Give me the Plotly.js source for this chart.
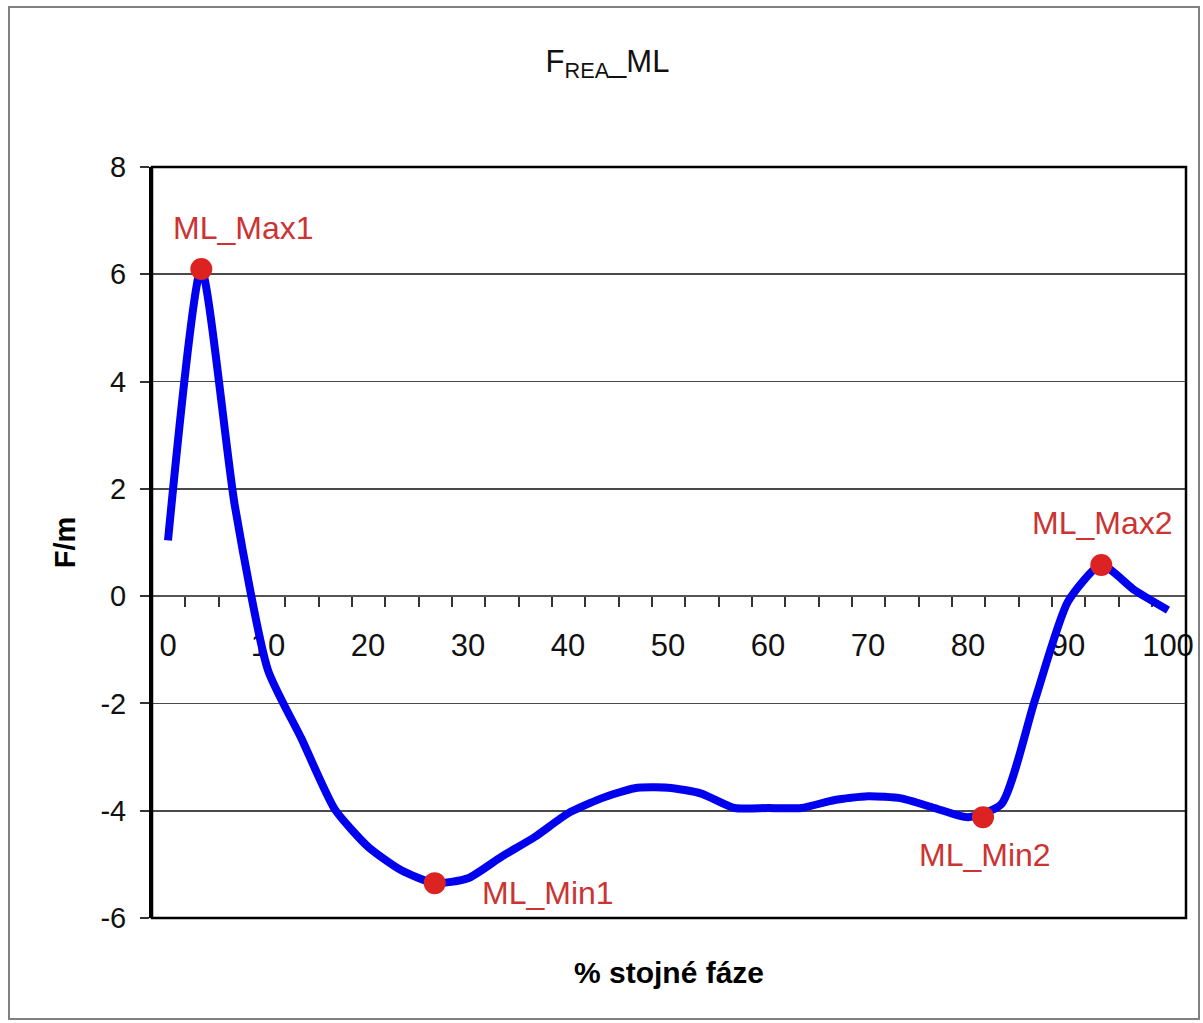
<!DOCTYPE html>
<html>
<head>
<meta charset="utf-8">
<script src="https://cdn.plot.ly/plotly-3.0.1.min.js"></script>
<style>
  html, body { margin: 0; padding: 0; background: #ffffff; }
  #chart { width: 1203px; height: 1023px; }
</style>
</head>
<body>
<div id="chart"></div>
<script>
// Stance-phase samples (% of stance) and medio-lateral reaction force per body mass
const stancePct = [0, 3.33, 6.67, 10, 13.33, 16.67, 20, 23.33, 26.67, 30,
                   33.33, 36.67, 40, 43.33, 46.67, 50, 53.33, 56.67, 60, 63.33,
                   66.67, 70, 73.33, 76.67, 80, 83.33, 86.67, 90, 93.33, 96.67, 100];
const forceML = [1.04, 6.1, 1.7, -1.38, -2.65, -3.97, -4.67, -5.11, -5.35, -5.26,
                 -4.86, -4.49, -4.05, -3.77, -3.58, -3.57, -3.68, -3.95, -3.95, -3.95,
                 -3.8, -3.73, -3.77, -3.95, -4.12, -3.88, -1.95, -0.1, 0.58, 0.11, -0.26];

// Extreme points of the curve
const extremaNames = ['ML_Max1', 'ML_Min1', 'ML_Min2', 'ML_Max2'];
const extremaX = [3.33, 26.67, 81.5, 93.33];
const extremaY = [6.1, -5.35, -4.12, 0.58];

// Axis labels
const xTickVals = [0, 10, 20, 30, 40, 50, 60, 70, 80, 90, 100];
const xTickText = ['0', '10', '20', '30', '40', '50', '60', '70', '80', '90', '100'];
const yTickVals = [-6, -4, -2, 0, 2, 4, 6, 8];
const yTickText = ['-6', '-4', '-2', '0', '2', '4', '6', '8'];

const FONT = 'Arial, "Liberation Sans", Helvetica, sans-serif';
const LABEL_RED = '#cc3333';

// Minor tick marks along the zero axis, one between neighbouring samples
const tickMarks = [];
for (let i = 0; i < 30; i++) tickMarks.push(1.72 + i * 100 / 30);

const yRange = [-6, 8];
const zeroPos = (0 - yRange[0]) / (yRange[1] - yRange[0]);

// Label offsets (px) relative to each extreme point
const labelShift = [[42, 41], [113, -10], [2, -38], [1, 42]];

const traces = [
  {
    x: stancePct, y: forceML, type: 'scatter', mode: 'lines',
    line: { color: '#0000ee', width: 8, shape: 'spline', smoothing: 0.6 },
    hoverinfo: 'x+y', showlegend: false
  },
  {
    x: extremaX, y: extremaY, type: 'scatter', mode: 'markers',
    marker: { color: '#dd2222', size: 22, line: { width: 0 } },
    text: extremaNames, hoverinfo: 'text+y', showlegend: false
  }
];

const annotations = extremaNames.map((name, i) => ({
  x: extremaX[i], y: extremaY[i], xref: 'x', yref: 'y',
  text: name, showarrow: false,
  xshift: labelShift[i][0], yshift: labelShift[i][1],
  font: { family: FONT, size: 32, color: LABEL_RED }
}));

const layout = {
  width: 1203, height: 1023,
  margin: { l: 152, r: 17, t: 167, b: 105 },
  paper_bgcolor: '#ffffff', plot_bgcolor: '#ffffff',
  font: { family: FONT, color: '#000000' },
  title: {
    text: 'F<sub>REA</sub>_ML',
    font: { family: FONT, size: 31, color: '#111111' },
    x: 0.505, xref: 'container', xanchor: 'center',
    y: 1 - 61 / 1023, yref: 'container', yanchor: 'middle'
  },
  xaxis: {
    range: [-1.6, 101.8],
    showticklabels: false, ticks: '', showgrid: false, zeroline: false,
    showline: false, fixedrange: true,
    title: { text: '<b>% stojné fáze</b>', font: { family: FONT, size: 30, color: '#000' }, standoff: 43 }
  },
  xaxis2: {
    overlaying: 'x', anchor: 'free', position: zeroPos, side: 'bottom',
    range: [-1.6, 101.8], matches: 'x',
    tickmode: 'array', tickvals: xTickVals, ticktext: xTickText,
    ticks: '', showgrid: false, zeroline: false,
    showline: true, linecolor: '#555555', linewidth: 2,
    tickfont: { family: FONT, size: 31, color: '#111111' },
    ticklabelstandoff: 22,
    layer: 'below traces', fixedrange: true
  },
  xaxis3: {
    overlaying: 'x', anchor: 'free', position: zeroPos, side: 'bottom',
    range: [-1.6, 101.8], matches: 'x',
    tickmode: 'array', tickvals: tickMarks, showticklabels: false,
    ticks: 'outside', ticklen: 10, tickwidth: 2, tickcolor: '#333333',
    showgrid: false, zeroline: false, showline: false,
    layer: 'below traces', fixedrange: true
  },
  yaxis: {
    range: yRange,
    tickmode: 'array', tickvals: yTickVals, ticktext: yTickText,
    ticks: 'outside', ticklen: 9, tickwidth: 2, tickcolor: '#333333',
    tickfont: { family: FONT, size: 29, color: '#111111' },
    ticklabelstandoff: 8,
    showgrid: true, gridcolor: '#4a4a4a', gridwidth: 1.8,
    zeroline: false,
    showline: true, linecolor: '#000000', linewidth: 3,
    fixedrange: true,
    title: { text: '<b>F/m</b>', font: { family: FONT, size: 29, color: '#000' }, standoff: 17 }
  },
  annotations: annotations,
  shapes: [
    // plot-area frame
    { type: 'rect', xref: 'paper', yref: 'paper', x0: 0, x1: 1, y0: 0, y1: 1,
      line: { color: '#000000', width: 2.5 }, fillcolor: 'rgba(0,0,0,0)', layer: 'above' },
    // chart-area frame
    { type: 'rect', xref: 'paper', yref: 'paper',
      x0: (9 - 152) / 1034, x1: (1199 - 152) / 1034,
      y0: (918 - 1019) / 751, y1: (918 - 7) / 751,
      line: { color: '#808080', width: 2 }, fillcolor: 'rgba(0,0,0,0)', layer: 'below' }
  ]
};

Plotly.newPlot('chart', [
  traces[0],
  traces[1],
  // invisible carriers so the overlay axes are drawn
  { x: [null], y: [null], xaxis: 'x2', type: 'scatter', mode: 'lines', showlegend: false, hoverinfo: 'skip' },
  { x: [null], y: [null], xaxis: 'x3', type: 'scatter', mode: 'lines', showlegend: false, hoverinfo: 'skip' }
], layout, { displayModeBar: false, staticPlot: true });
</script>
</body>
</html>
